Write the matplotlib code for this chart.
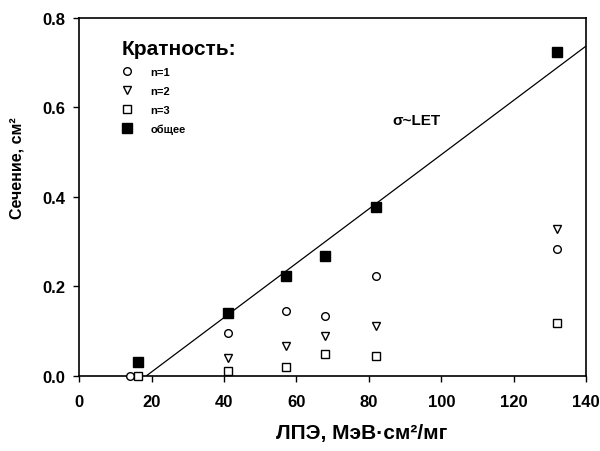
"""Cross-section vs LET scatter with linear sigma~LET fit."""

import matplotlib
matplotlib.use("Agg")
import matplotlib.pyplot as plt
from matplotlib.ticker import FormatStrFormatter

plt.rcParams["font.family"] = ["Liberation Sans", "DejaVu Sans"]
plt.rcParams["font.weight"] = "bold"

# data
let_total = [16.3, 41, 57, 68, 82, 132]
sig_total = [0.032, 0.141, 0.224, 0.269, 0.378, 0.725]

let_n1 = [14, 41, 57, 68, 82, 132]
sig_n1 = [0.0, 0.096, 0.145, 0.133, 0.224, 0.284]

let_n2 = [41, 57, 68, 82, 132]
sig_n2 = [0.040, 0.068, 0.090, 0.111, 0.328]

let_n3 = [16.3, 41, 57, 68, 82, 132]
sig_n3 = [0.0, 0.011, 0.019, 0.049, 0.045, 0.118]

# sigma ~ LET line: threshold and slope
fit_x = [18.5, 140]
fit_slope = 0.00607
fit_y = [fit_slope * (x - fit_x[0]) for x in fit_x]

fig = plt.figure(figsize=(6.0, 4.52), dpi=100)
ax = fig.add_axes([0.132, 0.166, 0.845, 0.792])

ax.plot(fit_x, fit_y, color="black", linewidth=0.9, zorder=2)

ms_open = 5.5
ax.plot(let_n1, sig_n1, "o", mfc="white", mec="black", mew=1.0, ms=ms_open,
        clip_on=False, label="n=1", zorder=3)
ax.plot(let_n2, sig_n2, "v", mfc="white", mec="black", mew=1.0, ms=ms_open,
        clip_on=False, label="n=2", zorder=3)
ax.plot(let_n3, sig_n3, "s", mfc="white", mec="black", mew=1.0, ms=ms_open,
        clip_on=False, label="n=3", zorder=3)
ax.plot(let_total, sig_total, "s", color="black", ms=6.5,
        clip_on=False, label="общее", zorder=4)

ax.text(86.5, 0.573, "σ~LET", fontsize=11, fontweight="bold", va="center")

ax.set_xlim(0, 140)
ax.set_ylim(0, 0.8)
ax.set_xticks(range(0, 141, 20))
ax.set_yticks([0.0, 0.2, 0.4, 0.6, 0.8])
ax.yaxis.set_major_formatter(FormatStrFormatter("%.1f"))
ax.tick_params(direction="out", length=4, width=1, labelsize=12, pad=6)
ax.tick_params(axis="x", pad=9)
for lab in ax.get_xticklabels() + ax.get_yticklabels():
    lab.set_fontweight("bold")
for s in ax.spines.values():
    s.set_linewidth(1.2)

ax.set_xlabel("ЛПЭ, МэВ·см²/мг", fontsize=15, fontweight="bold", va="center")
ax.set_ylabel("Сечение, см²", fontsize=11.5, fontweight="bold", va="center")
ax.xaxis.set_label_coords(0.558, -0.159)
ax.yaxis.set_label_coords(-0.122, 0.584)

leg = ax.legend(loc="upper left", bbox_to_anchor=(0.075, 0.955), frameon=False,
                title="Кратность:", alignment="left", fontsize=8,
                handletextpad=1.6, labelspacing=0.78, borderaxespad=0,
                handlelength=1.0)
leg.get_title().set_fontsize(15)
leg.get_title().set_fontweight("bold")
leg._legend_box.sep = 7

fig.savefig("out.png", dpi=100)
